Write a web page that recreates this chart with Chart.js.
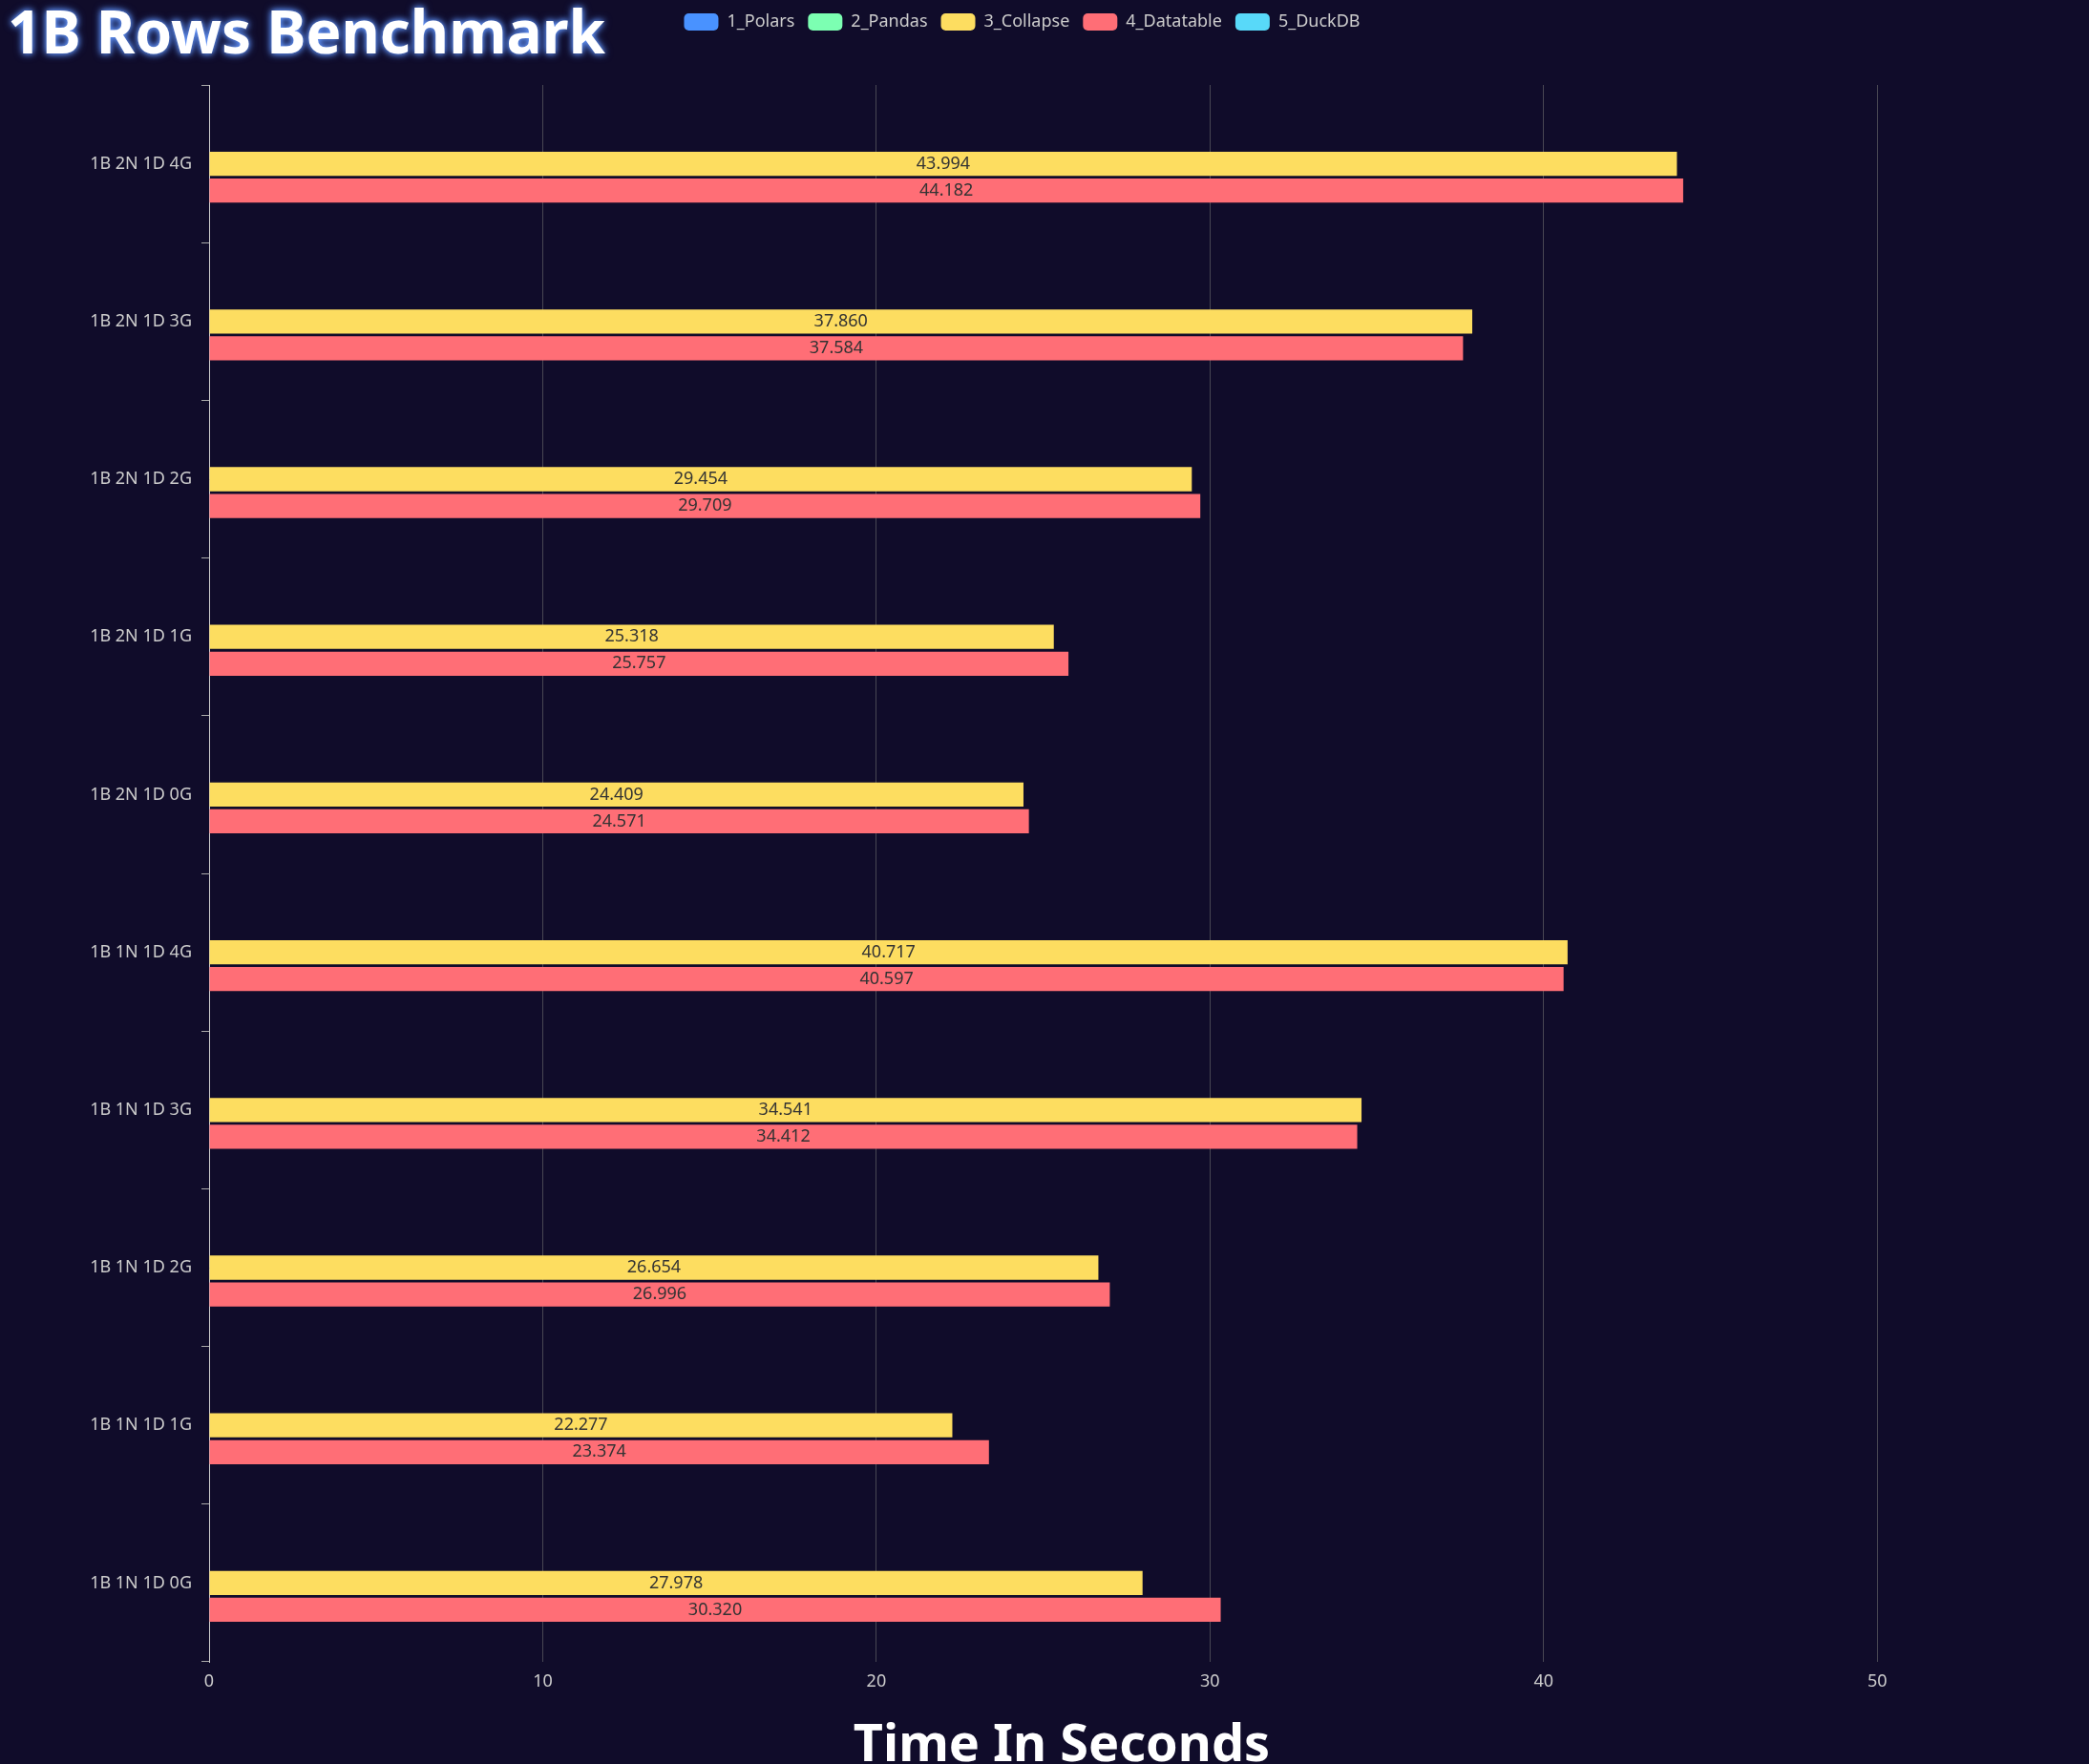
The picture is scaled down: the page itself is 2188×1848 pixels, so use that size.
<!DOCTYPE html>
<html><head><meta charset="utf-8">
<script src="https://cdn.jsdelivr.net/npm/chart.js@4"></script>
<style>
html,body{margin:0;padding:0;background:#100c2a;}
#wrap{position:relative;width:2188px;height:1848px;}
#title{position:absolute;left:8px;top:-10px;font:bold 62px "Noto Sans",sans-serif;color:#fff;text-shadow:0 0 6px #6a9bff,0 0 10px #4a7bdf;z-index:2;}
</style></head><body>
<div id="wrap"><div id="title">1B Rows Benchmark</div><canvas id="c" width="2188" height="1848"></canvas></div>
<script>
const categories=["1B 2N 1D 4G","1B 2N 1D 3G","1B 2N 1D 2G","1B 2N 1D 1G","1B 2N 1D 0G","1B 1N 1D 4G","1B 1N 1D 3G","1B 1N 1D 2G","1B 1N 1D 1G","1B 1N 1D 0G"];
const polars=[null,null,null,null,null,null,null,null,null,null];
const pandas=[null,null,null,null,null,null,null,null,null,null];
const collapse=[43.994,37.860,29.454,25.318,24.409,40.717,34.541,26.654,22.277,27.978];
const datatable=[44.182,37.584,29.709,25.757,24.571,40.597,34.412,26.996,23.374,30.320];
const duckdb=[null,null,null,null,null,null,null,null,null,null];
const xTicks=[0,10,20,30,40,50];
const xTitle='Time In Seconds';
const F='"Noto Sans",sans-serif';
const labelPlugin={id:'lbl',afterDatasetsDraw(ch){const c=ch.ctx;c.save();c.font='18px '+F;c.fillStyle='#333';c.textAlign='center';c.textBaseline='middle';
ch.data.datasets.forEach((d,i)=>{const m=ch.getDatasetMeta(i);m.data.forEach((el,j)=>{const v=d.data[j];if(v==null)return;c.fillText(v.toFixed(3),(el.x+el.base)/2,el.y);});});
c.font='bold 54px '+F;c.fillStyle='#fff';c.fillText(xTitle,ch.width/2+18,1830);c.restore();}};
const legPad={id:'legPad',afterInit(ch){},beforeUpdate(ch){const L=ch.legend;if(L&&!L._patched){const o=L.fit;L.fit=function(){o.call(this);this.height+=47;};L._patched=true;}}};
new Chart(document.getElementById('c'),{type:'bar',
data:{labels:categories,datasets:[
{label:'1_Polars',data:polars,backgroundColor:'#4992ff'},
{label:'2_Pandas',data:pandas,backgroundColor:'#7cffb2'},
{label:'3_Collapse',data:collapse,backgroundColor:'#fddd60'},
{label:'4_Datatable',data:datatable,backgroundColor:'#ff6e76'},
{label:'5_DuckDB',data:duckdb,backgroundColor:'#58d9f9'}]},
options:{indexAxis:'y',responsive:false,animation:false,categoryPercentage:0.85,barPercentage:0.9,
layout:{padding:{left:0,right:47,top:0,bottom:0}},
plugins:{legend:{position:'top',labels:{color:'#ccc',font:{size:18,family:F},boxWidth:36,boxHeight:18,useBorderRadius:true,borderRadius:5,padding:14}},tooltip:{enabled:false},title:{display:false}},
scales:{x:{min:0,max:55,ticks:{stepSize:10,color:'#ccc',font:{size:18,family:F},padding:10},
afterBuildTicks(a){a.ticks=xTicks.map(v=>({value:v}));},
afterFit(s){s.height=107;},
grid:{color:'#484753',drawTicks:false},border:{display:false}},
y:{ticks:{color:'#ccc',font:{size:18,family:F},padding:10},afterFit(s){s.width=219;},
grid:{offset:true,drawOnChartArea:false,drawTicks:true,tickLength:8,color:'#aaa'},border:{color:'#ccc'}}}},
plugins:[labelPlugin,legPad]
});
</script></body></html>
